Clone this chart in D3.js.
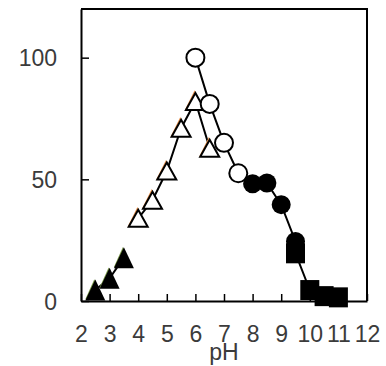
<!DOCTYPE html>
<html>
<head>
<meta charset="utf-8">
<script src="https://cdn.jsdelivr.net/npm/d3@7"></script>
<style>
html,body{margin:0;padding:0;background:#fff;}
svg{display:block;}
</style>
</head>
<body>
<svg id="chart" width="386" height="366"></svg>
<script>
// ---- data ----
const xTicks = [2,3,4,5,6,7,8,9,10,11,12];
const yTicks = [0,50,100];
const xLabel = "pH";

const triFilledPH  = [2.5, 3.0, 3.5];
const triFilledVal = [4.5, 9.3, 17.8];

const triOpenPH  = [4.0, 4.5, 5.0, 5.5, 6.0, 6.5];
const triOpenVal = [34, 41.4, 53.4, 71, 82, 62.8];

const circOpenPH  = [6.0, 6.5, 7.0, 7.5];
const circOpenVal = [100, 81, 65, 52.5];

const circFilledPH  = [8.0, 8.5, 9.0, 9.5];
const circFilledVal = [48.2, 48.5, 39.6, 24.5];

const squarePH  = [9.5, 10.0, 10.5, 11.0];
const squareVal = [19.6, 4.5, 2.0, 1.5];

// ---- layout ----
const svg = d3.select("#chart");
const L = 81, R = 367, T = 9, B = 301;
const x = d3.scaleLinear().domain([2,12]).range([L,R]);
const y = d3.scaleLinear().domain([0,120]).range([B,T]);

const zip = (a,b) => a.map((v,i)=>[v,b[i]]);
const triFilled = zip(triFilledPH, triFilledVal);
const triOpen = zip(triOpenPH, triOpenVal);
const circOpen = zip(circOpenPH, circOpenVal);
const circFilled = zip(circFilledPH, circFilledVal);
const squares = zip(squarePH, squareVal);

const textColor = "#3b3b3b";
const font = "Liberation Sans, Arial, sans-serif";

// frame (top & right)
svg.append("path")
  .attr("d", `M${L},${T}H${R}V${B}`)
  .attr("fill","none").attr("stroke","#000").attr("stroke-width",2);

// axes
const xAxis = d3.axisBottom(x).tickValues(xTicks).tickSizeInner(-7).tickSizeOuter(0).tickPadding(0).tickFormat(d3.format("d"));
const gx = svg.append("g").attr("transform",`translate(0,${B})`).call(xAxis);
gx.select(".domain").attr("stroke","#000").attr("stroke-width",2);
gx.selectAll(".tick line").attr("stroke","#000").attr("stroke-width",1.5);
gx.selectAll(".tick text").attr("y", 41).attr("dy", 0)
  .attr("font-family", font).attr("font-size", 23).attr("fill", textColor);

const yAxis = d3.axisLeft(y).tickValues(yTicks).tickSizeInner(-8).tickSizeOuter(0).tickPadding(0);
const gy = svg.append("g").attr("transform",`translate(${L},0)`).call(yAxis);
gy.select(".domain").attr("stroke","#000").attr("stroke-width",2);
gy.selectAll(".tick line").attr("stroke","#000").attr("stroke-width",1.5);
gy.selectAll(".tick text").attr("x", -24).attr("dy", "0.36em")
  .attr("font-family", font).attr("font-size", 23).attr("fill", textColor);

svg.append("text").attr("x", (L+R)/2).attr("y", 360)
  .attr("text-anchor","middle").attr("font-family", font).attr("font-size", 23)
  .attr("fill", textColor).text(xLabel);

// lines
const line = d3.line().x(d=>x(d[0])).y(d=>y(d[1]));
svg.append("path").datum(triFilled).attr("d", line)
  .attr("fill","none").attr("stroke","#000").attr("stroke-width",2);
svg.append("path").datum(triOpen).attr("d", line)
  .attr("fill","none").attr("stroke","#000").attr("stroke-width",2);
svg.append("path").datum(circOpen.concat(circFilled, squares)).attr("d", line)
  .attr("fill","none").attr("stroke","#000").attr("stroke-width",2);

// markers
const triPath = (cx, cy, hw, hh) => `M${cx},${cy-hh}L${cx+hw},${cy+hh}L${cx-hw},${cy+hh}Z`;

// filled triangles (with faint green underlay)
svg.append("g").selectAll("path").data(triFilled).join("path")
  .attr("d", d => triPath(x(d[0])-1, y(d[1])-0.8, 9, 10))
  .attr("fill", "#7a9a4a");
svg.append("g").selectAll("path").data(triFilled).join("path")
  .attr("d", d => triPath(x(d[0]), y(d[1]), 10, 10.5))
  .attr("fill", "#000");

// open triangles (with faint orange underlay)
svg.append("g").selectAll("path").data(triOpen).join("path")
  .attr("d", d => triPath(x(d[0])-0.8, y(d[1])-1, 8.5, 8.5))
  .attr("fill", "none").attr("stroke", "#e8904a").attr("stroke-width", 1.5);
svg.append("g").selectAll("path").data(triOpen).join("path")
  .attr("d", d => triPath(x(d[0]), y(d[1]), 9.5, 8.5))
  .attr("fill", "#fff").attr("stroke", "#000").attr("stroke-width", 2);

// open circles
svg.append("g").selectAll("circle").data(circOpen).join("circle")
  .attr("cx", d=>x(d[0])).attr("cy", d=>y(d[1])).attr("r", 9)
  .attr("fill","#fff").attr("stroke","#000").attr("stroke-width",2);

// squares
svg.append("g").selectAll("rect").data(squares).join("rect")
  .attr("x", d=>x(d[0])-9.5).attr("y", d=>y(d[1])-10).attr("width",19).attr("height",20)
  .attr("fill","#000");

// filled circles
svg.append("g").selectAll("circle").data(circFilled).join("circle")
  .attr("cx", d=>x(d[0])).attr("cy", d=>y(d[1])).attr("r", 9.5)
  .attr("fill","#000");
</script>
</body>
</html>
